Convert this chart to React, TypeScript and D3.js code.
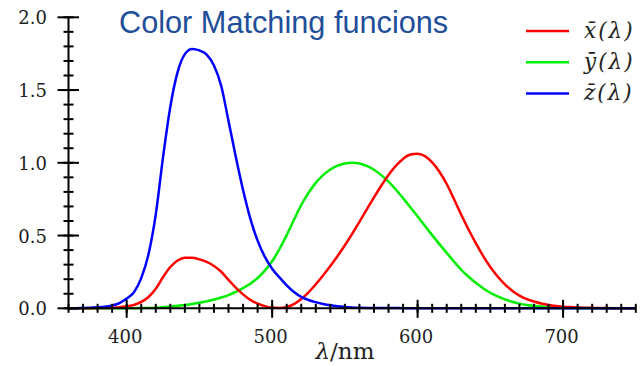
import React from "react";
import * as d3 from "d3";

const wavelengths: number[] = d3.range(360, 751, 5);
const xBar: number[] = [
  0.00013, 0.000232, 0.000415, 0.000742, 0.001368, 0.002236, 0.004243, 0.00765, 0.01431, 0.02319,
  0.04351, 0.07763, 0.13438, 0.21477, 0.2839, 0.3285, 0.34828, 0.34806, 0.3362, 0.3187,
  0.2908, 0.2511, 0.19536, 0.1421, 0.09564, 0.05795, 0.03201, 0.0147, 0.0049, 0.0024,
  0.0093, 0.0291, 0.06327, 0.1096, 0.1655, 0.22575, 0.2904, 0.3597, 0.43345, 0.51205,
  0.5945, 0.6784, 0.7621, 0.8425, 0.9163, 0.9786, 1.0263, 1.0567, 1.0622, 1.0456,
  1.0026, 0.9384, 0.85445, 0.7514, 0.6424, 0.5419, 0.4479, 0.3608, 0.2835, 0.2187,
  0.1649, 0.1212, 0.0874, 0.0636, 0.04677, 0.0329, 0.0227, 0.01584, 0.011359, 0.008111,
  0.00579, 0.004109, 0.002899, 0.002049, 0.00144, 0.001, 0.00069, 0.000476, 0.000332,
];
const yBar: number[] = [
  0.000004, 0.000007, 0.000012, 0.000022, 0.000039, 0.000064, 0.00012, 0.000217, 0.000396, 0.00064,
  0.00121, 0.00218, 0.004, 0.0073, 0.0116, 0.01684, 0.023, 0.0298, 0.038, 0.048,
  0.06, 0.0739, 0.09098, 0.1126, 0.13902, 0.1693, 0.20802, 0.2586, 0.323, 0.4073,
  0.503, 0.6082, 0.71, 0.7932, 0.862, 0.91485, 0.954, 0.9803, 0.99495, 1.0,
  0.995, 0.9786, 0.952, 0.9154, 0.87, 0.8163, 0.757, 0.6949, 0.631, 0.5668,
  0.503, 0.4412, 0.381, 0.321, 0.265, 0.217, 0.175, 0.1382, 0.107, 0.0816,
  0.061, 0.04458, 0.032, 0.0232, 0.017, 0.01192, 0.00821, 0.005723, 0.004102, 0.002929,
  0.002091, 0.001484, 0.001047, 0.00074, 0.00052, 0.000361, 0.000249, 0.000172, 0.00012,
];
const zBar: number[] = [
  0.000606, 0.001086, 0.001946, 0.003486, 0.00645, 0.01055, 0.02005, 0.03621, 0.06785, 0.1102,
  0.2074, 0.3713, 0.6456, 1.03905, 1.3856, 1.62296, 1.74706, 1.7826, 1.77211, 1.7441,
  1.6692, 1.5281, 1.28764, 1.0419, 0.81295, 0.6162, 0.46518, 0.3533, 0.272, 0.2123,
  0.1582, 0.1117, 0.07825, 0.05725, 0.04216, 0.02984, 0.0203, 0.0134, 0.00875, 0.00575,
  0.0039, 0.00275, 0.0021, 0.0018, 0.00165, 0.0014, 0.0011, 0.001, 0.0008, 0.0006,
  0.00034, 0.00024, 0.00019, 0.0001, 0.00005, 0.00003, 0.00002, 0.00001, 0, 0,
  0, 0, 0, 0, 0, 0, 0, 0, 0, 0,
  0, 0, 0, 0, 0, 0, 0, 0, 0,
];

const seriesNames = ["x", "y", "z"];
const seriesColors = ["#ff0000", "#00ee00", "#0000ff"];
const xMajorTicks = [400, 500, 600, 700];
const yMajorTicks = [0, 0.5, 1.0, 1.5, 2.0];
const yTickLabels = ["0.0", "0.5", "1.0", "1.5", "2.0"];
const title = "Color Matching funcions";

export default function App() {
  const W = 642, H = 366;
  const x = d3.scaleLinear().domain([360, 750]).range([68.5, 635.8]);
  const y = d3.scaleLinear().domain([0, 2]).range([308.3, 17.3]);
  const data = [xBar, yBar, zBar];
  const line = (vals: number[]) =>
    d3.line<number>()
      .x((_, i) => x(wavelengths[i]))
      .y((v) => y(v))
      .curve(d3.curveMonotoneX)(vals) || "";
  const drawOrder = [1, 0, 2];
  const xMinor = d3.range(360, 751, 10);
  const yMinor = d3.range(0, 21).map((d) => d / 10);
  const serif = "DejaVu Serif";
  return (
    <svg width={W} height={H} style={{ position: "absolute", left: 0, top: 0, background: "#fff" }}>
      <rect width={W} height={H} fill="#fff" />
      {drawOrder.map((k) => (
        <path key={k} d={line(data[k])} fill="none" stroke={seriesColors[k]} strokeWidth={2.5} strokeLinejoin="round" />
      ))}
      <g stroke="#000" strokeWidth={2}>
        <line x1={x(360)} x2={x(750)} y1={y(0)} y2={y(0)} />
        <line x1={x(360)} x2={x(360)} y1={y(0)} y2={y(2)} />
        {xMinor.map((t) => (
          <line key={"xm" + t} x1={x(t)} x2={x(t)} y1={y(0) - 4.5} y2={y(0) + 4.5} />
        ))}
        {xMajorTicks.map((t) => (
          <line key={"xM" + t} x1={x(t)} x2={x(t)} y1={y(0) - 8.5} y2={y(0) + 9.5} />
        ))}
        {yMinor.map((t) => (
          <line key={"ym" + t} x1={x(360) - 5} x2={x(360) + 5} y1={y(t)} y2={y(t)} />
        ))}
        {yMajorTicks.map((t) => (
          <line key={"yM" + t} x1={x(360) - 11} x2={x(360) + 10.5} y1={y(t)} y2={y(t)} />
        ))}
      </g>
      <g fontFamily={serif} fontSize={18} fill="#222">
        {xMajorTicks.map((t) => (
          <text key={"xl" + t} x={x(t) - 1.5} y={343} textAnchor="middle">{t}</text>
        ))}
        {yMajorTicks.map((t, i) => (
          <text key={"yl" + t} x={47} y={y(t) + 7} textAnchor="end">{yTickLabels[i]}</text>
        ))}
      </g>
      <text x={345} y={359} textAnchor="middle" fontFamily={serif} fontSize={23} fill="#222">
        <tspan fontStyle="italic">λ</tspan>/nm
      </text>
      <text x={119} y={33} fontFamily="Liberation Sans, Arial, sans-serif" fontSize={30.7} fill="#1f4e9a">{title}</text>
      {seriesNames.map((n, i) => (
        <g key={n}>
          <line x1={526} x2={569} y1={31 + i * 31.2} y2={31 + i * 31.2} stroke={seriesColors[i]} strokeWidth={2.5} />
          <text x={584} y={37.5 + i * 31.2} fontFamily={serif} fontSize={21.5} fontStyle="italic" letterSpacing={2} fill="#222">
            {n + "\u0304"}(λ)
          </text>
        </g>
      ))}
    </svg>
  );
}
